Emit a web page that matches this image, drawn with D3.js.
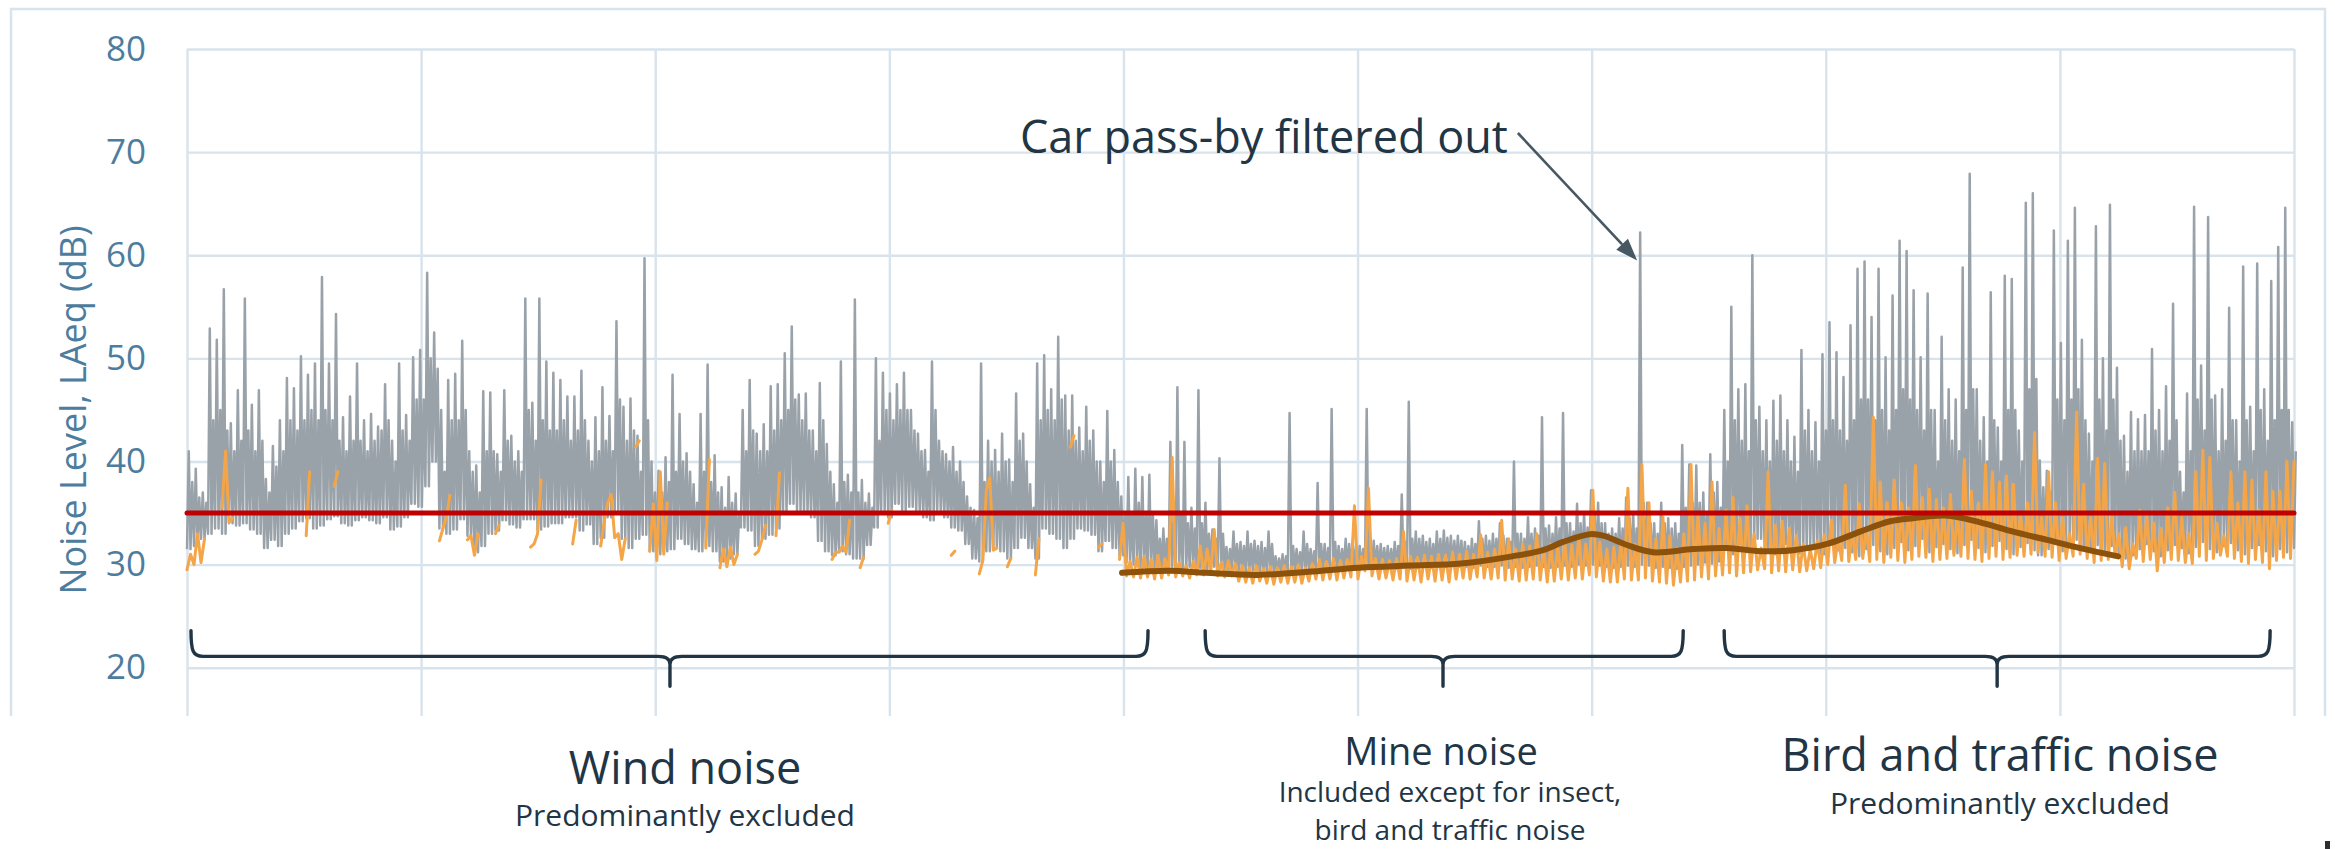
<!DOCTYPE html>
<html>
<head>
<meta charset="utf-8">
<script src="https://cdn.jsdelivr.net/npm/d3@7"></script>
<style>
  html, body { margin: 0; padding: 0; background: #ffffff; }
  svg { display: block; }
  text { font-family: "Open Sans", "Noto Sans", sans-serif; }
</style>
</head>
<body>
<svg id="chart" width="2335" height="849"></svg>
<script>
// ---------------- data ----------------
const _ = null;
const yTicks = [20, 30, 40, 50, 60, 70, 80];
const dayTicks = [0, 1, 2, 3, 4, 5, 6, 7, 8, 9];
const criterionLevel = 35;          // dB, red criterion line
const samplesPerSpan = 300.5;        // sample blocks across the 9-day window

// Unfiltered LAeq per block: trough, highest peak, and top of the dense body (dB)
const grayLow = [
  31.5,31.8,32.5,33,33.5,33,34,33.8,34,33.4,
  33,31.6,32.4,31.8,33,33.5,34.2,34.5,33.5,33.8,
  34.4,34.7,34,33.8,34.3,34.6,34.3,34,34.6,33.4,
  33.7,34.6,35.9,35.6,37.6,40,33.5,33,33.4,34.4,
  32.8,31.2,31.8,33,33.3,34.3,33.9,33.6,34.4,34.4,
  33.4,33.7,34,34,34.6,34.6,33.3,33.9,32,32.6,
  34.6,35.2,32.5,31.6,32.5,32.9,31.3,31,31.3,31.5,
  32.5,32,31.5,31.3,31.8,31.3,30.3,30.6,31,33.6,
  33.3,31.8,32.5,32.9,33.5,35,35.9,35.3,35,34.6,
  32.3,31.3,30.9,31.3,31,30.6,30.6,31.9,33.6,35.3,
  34.6,35.9,35.3,35.6,35.3,34.6,34.3,35.3,34.6,33.6,
  33.3,32,30.6,30.3,31.3,31.6,31.3,30.6,31.6,32.6,
  31.6,30.6,33.5,33,32.5,31.6,32.5,33.5,33.3,32.9,
  31.3,32.3,31.6,30.9,30.2,30,29.8,29.7,29.8,29.6,
  29.8,29.7,29.6,29.8,29.7,29.6,29.8,29.7,29.5,29.6,
  29.4,29.3,29.4,29.2,29.3,29.2,29.3,29.2,29.4,29.3,
  29.5,29.6,29.5,29.7,29.6,29.6,29.7,29.6,29.8,29.7,
  29.6,29.7,29.6,29.7,29.6,29.7,29.8,29.7,29.8,29.8,
  29.9,29.8,29.8,29.7,29.9,29.8,29.8,29.9,29.7,29.8,
  29.7,29.8,29.9,29.8,29.7,29.8,29.9,29.8,30,29.9,
  30,29.9,29.8,29.7,29.8,29.9,29.8,30,29.9,29.7,
  29.8,29.7,29.6,29.8,29.9,30,30.2,30.1,30.3,31.5,
  31,32,31.2,31.8,32.5,31.4,31,31.6,32,31.3,
  31.1,31.8,31.5,31,32.2,31.4,31.6,31.2,30.8,31.5,
  31.9,31.3,31,31.6,32.2,31.4,31.8,32.5,31.2,31.7,
  32,31.5,31.1,31.9,32.4,31.6,31.2,31.8,32.3,31.5,
  31,31.7,32.1,31.4,30.9,31.5,32,31.3,31.8,32.4,
  31.6,31.2,31.9,31.4,31.8,31,30.6,30.9,31.5,32,
  31.3,30.8,31.4,31.9,31.6,31.1,31.7,32.2,31.5,31.2,
  31.8,32.1,31.4,31,31.6,31.9,31.3,30.8,31.5,31.2,
  31.6
];
const grayHigh = [
  41,39.3,37,52.9,51.8,56.7,43.7,46.9,55.8,45.5,
  46.9,38.3,41.5,44,48.1,47.1,50.2,48.4,49.5,57.9,
  49.5,54.3,44.3,46.3,49.5,44,44.6,43.4,47.5,42,
  49.5,44.5,50.1,50.8,58.3,52.5,45,47.9,48.5,51.7,
  41,39.6,46.8,46.7,40.7,46.9,42.5,41,55.8,45.7,
  55.8,49.7,48.6,47.9,46.3,46.3,48.8,42,44.3,47.2,
  44.4,53.6,45.3,46.1,42.5,59.7,40,39.1,40.4,48.4,
  44.6,40.8,37.8,44.6,49.4,40.6,37.5,38.5,36.9,45,
  47.9,42.7,43.6,47.3,47.5,50.5,53.1,46.5,46.6,43,
  47.6,41.7,37.8,49.7,38.7,55.7,38.2,36.9,50,48.6,
  46.6,47.5,48.6,45,42.7,41.1,49.7,42,40.7,41.4,
  40,36.6,35.3,49.5,42,41.1,42.7,40.2,46.6,42.7,
  37.8,49.5,50.3,47,52.1,46.4,46.4,43.3,45.3,43,
  40,44.9,41.1,36.6,38.5,39.3,38.5,38.7,34.3,33.5,
  41.9,47.2,41.9,35.5,46.9,36,33.4,40.3,31.7,33.2,
  32.2,33.2,32.3,32.2,33.2,30.8,31,44.7,31.5,33.2,
  31.5,37.9,32,45.1,31.8,32.5,32.3,31.8,45.1,32.3,
  32,31.8,32.2,36.8,45.8,33.2,32.8,32.5,33.2,33.3,
  32.8,32.8,32.2,32.5,34.2,32.8,33,34,32.5,40,
  33,34.6,33.5,44.3,33.8,34.6,44.7,34,35.9,35,
  37.2,36,34,33.5,34.5,36.5,35,62.2,36,34,
  36,34.5,34,41.6,39.7,39.6,37,40.7,38,45,
  55,47,47.5,60,45.3,44,45.9,46.4,44,42.4,
  50.8,45,43.8,50.4,53.5,50.6,48.2,53.2,58.7,59.4,
  54,58.7,50.1,56.1,61.4,60.4,56.6,50.1,56.3,45,
  52.1,47,46,58.8,67.9,47,44.3,56.4,43.3,58,
  57.7,43,65.1,66,40.1,39.1,62.4,51.5,61.4,64.6,
  51.8,42.7,62.8,50,64.9,49.1,42.5,44.8,44.1,44.5,
  50.9,45,47.3,55.3,39,46.6,64.7,49.3,63.7,46.4,
  47,54.9,44,58.9,45.3,59.2,47,57.5,60.8,64.6,
  43.8
];
const grayBody = [
  38,36.5,36,44,45,43,41,42,43,41,
  42,37,39.5,41,44,43,44,45,44,45,
  44,42,41,42,42,41,42,43,44,40,
  43,42,46,46,50,49,39,44,44,45,
  39,37,41,41,39,42,40,39,45,42,
  44,43,43,44,42,43,44,40,41,42,
  41,46,42,43,39,44,37,37,38,39,
  40,39,36,39,38,37,35.5,36,35,41,
  43,41,41,43,44,45,46,44,43,41,
  44,39,36,38,37,37,36,35.5,42,45,
  44,45,45,43,41,39,45,41,40,39,
  38,35.5,34.5,38,40,39,40,38,42,40,
  35.5,44,45,44,46,43,42,41,42,40,
  38,40,38,35,35,36,35,35,32.5,32.5,
  34,35,34,33.5,34,33,32.5,33,31.5,32,
  31.8,32,31.8,31.6,32,30.6,30.8,31.8,31.2,32,
  31.3,32,31.6,32.2,31.5,32,31.8,31.5,32.5,31.8,
  31.6,31.5,31.8,32.2,32.5,32.5,32.2,32,32.5,32.6,
  32.3,32.3,31.8,32,32.5,32.3,32.5,32.8,32.2,33,
  32.5,33,32.8,33.5,33,33.5,34,33.2,34,33.6,
  35,34,33,33,33.5,34.5,33.5,36,34,33,
  34,33.5,33,35.5,36,36,35,37,35.5,40,
  44,42,41,44,41,40,42,41,40,39,
  43,41,40,43,44,43,42,44,46,46,
  44,45,43,45,47,46,45,43,45,40,
  44,42,41,45,47,42,40,44,40,45,
  45,40,47,48,37.5,37,46,44,46,47,
  44,40,46,43,46,42,39,41,41,41,
  43,41,42,44,37,41,46,43,46,41,
  42,44,40,44,41,45,42,44,45,45,
  41
];

// Filtered LAeq per block (excluded periods are null)
const orangeLow = [
  29.5,30,30.2,_,_,35.5,34.1,_,_,_,
  _,_,_,_,_,_,_,32.8,_,_,
  _,37.6,_,_,_,_,_,_,_,_,
  _,_,_,_,_,_,32.3,34.6,_,_,
  32.4,30.9,_,_,33,_,_,_,_,31.7,
  33,_,_,_,_,32,_,_,_,31.8,
  36,32.6,30.5,_,41.4,_,31.3,30.4,31,_,
  _,_,_,_,31.6,_,29.7,29.8,30,_,
  _,31,32.4,_,32.8,_,_,_,_,_,
  _,_,30.5,31.2,31.2,_,29.7,_,_,_,
  34,_,_,_,_,_,_,_,_,30.9,
  _,_,_,29.1,37.2,31.4,_,29.8,_,_,
  _,29,_,_,_,_,41.4,_,_,_,
  31.7,_,_,30.5,28.9,28.8,28.7,28.8,28.6,28.7,
  29,28.8,28.9,28.7,29,29,29.2,28.9,28.8,28.9,
  28.4,28.3,28.2,28.4,28.2,28.1,28.3,28.2,28.3,28.2,
  28.4,28.6,28.5,28.6,28.5,28.7,28.8,28.6,29.4,28.9,
  28.6,28.7,28.5,28.6,28.4,28.5,28.3,28.6,28.4,28.5,
  28.3,28.6,28.7,28.6,28.8,28.7,28.6,28.7,28.5,28.6,
  28.4,28.5,28.6,28.5,28.3,28.4,28.6,28.5,28.7,28.6,
  29,28.8,28.4,28.3,28.3,28.6,28.5,28.5,28.7,28.4,
  28.3,28.2,28,28.3,28.4,28.5,28.8,28.6,28.9,29,
  29.2,28.9,29.2,29.3,29.5,29.6,29.2,29.4,29.3,29.5,
  29.3,29.4,29.6,29.7,30,30.2,30.4,30.3,30.5,30.6,
  30.3,30.5,30.2,30.7,30.4,30.2,30.5,30.8,30.7,30.3,
  30.5,30.6,30.9,30.8,30.6,30.5,30.3,30.6,30.8,30.5,
  30.7,30.9,30.8,31,31.2,30.8,30.7,30.4,30.6,30.8,
  31,30.6,30.2,30.4,30.5,30.8,29.8,29.6,30.6,30.3,
  30.5,29.4,30.2,30.5,30.4,30.2,30.1,30.8,30.4,30.6,
  30.9,30.8,30.6,30.3,30.1,30.5,30.2,29.6,30.4,30.7,
  30.6
];
const orangeHigh = [
  31,33,32.5,_,_,41,34.5,_,_,_,
  _,_,_,_,_,_,_,39,_,_,
  _,39,_,_,_,_,_,_,_,_,
  _,_,_,_,_,_,33.5,36.7,_,_,
  32.8,33,_,_,33.8,_,_,_,_,32,
  38.2,_,_,_,_,34.3,_,_,_,34.2,
  36.8,33,32.5,_,42,_,35.9,39,36,_,
  _,_,_,_,40.2,_,31.5,31.7,31,_,
  _,31.3,33.8,_,38.9,_,_,_,_,_,
  _,_,31.2,31.8,34.3,_,30.7,_,_,_,
  35.3,_,_,_,_,_,_,_,_,31.3,
  _,_,_,30.4,38.4,31.6,_,30.6,_,_,
  _,32.5,_,_,_,_,42.5,_,_,_,
  32,_,_,34,30.3,30.7,30.8,30.5,30.9,30.6,
  40.4,30.2,29.9,30.3,31.8,31.5,33.4,30.2,30.4,30.1,
  29.9,29.7,29.9,29.6,29.8,29.7,29.9,29.8,30,29.7,
  30.1,30.5,30.3,30.6,30.4,30.5,35.7,30.8,37.4,30.6,
  30.5,30.4,30.6,33.2,30.8,30.7,30.9,30.8,31,30.9,
  31.2,31,31.3,31,32.9,31.2,31.5,34.3,32.5,31.5,
  32,31.8,33,31.6,32,31.8,32.2,31.9,32.8,32,
  37.2,32.2,31.5,31.7,32.3,37.4,32,39.7,36,32.5,
  34.6,32.8,31.6,33,39.7,35,34,38,33.5,35.3,
  36.5,34.5,35.7,33,31.6,39,33.8,34.2,33.5,32.8,
  32,31.5,32.3,32.9,34.3,32.5,37.7,33,35.9,33.5,
  44.3,38,36,38.2,36,35.5,39.6,36.5,37.3,36.3,
  35.5,36.8,35,40.2,37.1,36,39.7,39,38,38.6,
  37.8,35,36,42.8,34.6,39,36,34.6,33,44.8,
  37.8,34.6,40.3,39.8,34.6,33,33.6,32,35.3,34.8,
  34,33.5,35.5,37,34.6,33,39,41.1,40.4,34,
  32.8,39,36,39,38.2,35.3,39,37.1,37.1,40,
  40
];

// Smoothed trend of the filtered level
const trendDays   = [3.994,4.199,4.353,4.571,4.789,5.006,5.224,5.442,5.660,5.792,5.878,5.993,6.049,6.151,6.262,6.433,6.578,6.719,6.860,7.006,7.147,7.275,7.373,7.510,7.659,7.800,7.945,8.086,8.249];
const trendValues = [29.2,29.4,29.2,29.0,29.3,29.7,29.9,30.1,30.8,31.4,32.2,32.95,32.8,31.9,31.2,31.5,31.6,31.3,31.4,32.0,33.2,34.2,34.5,34.75,34.1,33.2,32.4,31.6,30.8];

// Period braces (days) and their captions
const periodNames = ["Wind noise", "Mine noise", "Bird and traffic noise"];
const periodNotes = [["Predominantly excluded"], ["Included except for insect,", "bird and traffic noise"], ["Predominantly excluded"]];
const periodStart = [0.017, 4.349, 6.566];
const periodEnd   = [4.105, 6.391, 8.898];
const periodMid   = [2.063, 5.365, 7.732];

// ---------------- layout ----------------
const svg = d3.select("#chart");
const plotLeft = 187, plotRight = 2294, plotTop = 49, gridBottom = 716;
const x = d3.scaleLinear().domain([0, 9]).range([plotLeft, plotRight]);
const y = d3.scaleLinear().domain([20, 80]).range([667.7, plotTop]);
const step = 9 / samplesPerSpan;

const gridColor = "#d8e3ec";
const axisBlue = "#4d7d9e";
const ink = "#223544";

// outer frame
svg.append("path")
  .attr("d", `M11,${gridBottom} L11,9 L2325,9 L2325,${gridBottom}`)
  .attr("stroke", gridColor).attr("stroke-width", 2.5).attr("fill", "none");

// gridlines
const hGrid = svg.append("g").attr("transform", `translate(${plotLeft},0)`)
  .call(d3.axisLeft(y).tickValues(yTicks).tickSize(-(plotRight - plotLeft)).tickFormat(""));
const vGrid = svg.append("g").attr("transform", `translate(0,${gridBottom})`)
  .call(d3.axisBottom(x).tickValues(dayTicks).tickSize(-(gridBottom - plotTop)).tickFormat(""));
[hGrid, vGrid].forEach(g => {
  g.select(".domain").remove();
  g.selectAll("line").attr("stroke", gridColor).attr("stroke-width", 2.4);
});

// y tick labels
const yLabels = svg.append("g").attr("transform", `translate(${plotLeft},0)`)
  .call(d3.axisLeft(y).tickValues(yTicks).tickSize(0).tickPadding(41));
yLabels.select(".domain").remove();
yLabels.selectAll("text")
  .attr("fill", axisBlue).attr("font-size", 35)
  .attr("font-family", "'Open Sans', 'Noto Sans', sans-serif");

// y axis title
svg.append("text")
  .attr("transform", "translate(86,410) rotate(-90)")
  .attr("text-anchor", "middle")
  .attr("fill", axisBlue).attr("font-size", 36)
  .text("Noise Level, LAeq (dB)");

// series
const line = d3.line().x(d => x(d[0])).y(d => y(d[1])).defined(d => d[1] !== null);

const grayPts = grayHigh.flatMap((h, i) => [
  [i * step, grayLow[i]],
  [(i + 0.25) * step, h],
  [(i + 0.5) * step, grayLow[i]],
  [(i + 0.75) * step, grayBody[i]]
]);
svg.append("path").datum(grayPts)
  .attr("d", line).attr("fill", "none")
  .attr("stroke", "#99a1a9").attr("stroke-width", 2.5).attr("stroke-linejoin", "round");

const orangePts = orangeHigh.flatMap((h, i) => [[i * step, orangeLow[i]], [(i + 0.5) * step, h]]);
svg.append("path").datum(orangePts)
  .attr("d", line).attr("fill", "none")
  .attr("stroke", "#f3a547").attr("stroke-width", 3).attr("stroke-linejoin", "round").attr("stroke-linecap", "round");

// trend
const trend = d3.line().x((d, i) => x(trendDays[i])).y(d => y(d)).curve(d3.curveCatmullRom.alpha(0.5));
svg.append("path").datum(trendValues)
  .attr("d", trend).attr("fill", "none")
  .attr("stroke", "#8c520c").attr("stroke-width", 6).attr("stroke-linecap", "round");

// criterion
svg.append("line")
  .attr("x1", x(0)).attr("x2", x(9)).attr("y1", y(criterionLevel)).attr("y2", y(criterionLevel))
  .attr("stroke", "#c00000").attr("stroke-width", 5).attr("stroke-linecap", "round");

// annotation for the car pass-by
const carIdx = grayHigh.indexOf(d3.max(grayHigh.slice(180, 240)));
const note = svg.append("text")
  .attr("x", 1020).attr("y", 153)
  .attr("fill", ink).attr("font-size", 45)
  .text("Car pass-by filtered out");
const nb = note.node().getBBox();
const ax0 = nb.x + nb.width + 10, ay0 = 133;
const ax1 = x((carIdx + 0.25) * step) - 3, ay1 = y(59.5);
const ang = Math.atan2(ay1 - ay0, ax1 - ax0);
const headLen = 22, headHalf = 8;
const bx = ax1 - headLen * Math.cos(ang), by = ay1 - headLen * Math.sin(ang);
svg.append("line").attr("x1", ax0).attr("y1", ay0).attr("x2", bx).attr("y2", by)
  .attr("stroke", "#475863").attr("stroke-width", 2.6);
svg.append("path")
  .attr("d", `M${ax1},${ay1} L${bx + headHalf * Math.sin(ang)},${by - headHalf * Math.cos(ang)} L${bx - headHalf * Math.sin(ang)},${by + headHalf * Math.cos(ang)} Z`)
  .attr("fill", "#475863");

// period braces
const braceTop = y(23.6), braceBar = y(21.1), braceTip = y(18.2);
periodStart.forEach((s, k) => {
  const x0 = x(s), x1 = x(periodEnd[k]), cx = x(periodMid[k]);
  const r = 12;
  const d = `M${x0},${braceTop} C${x0},${braceBar - 5} ${x0 + 2},${braceBar} ${x0 + r},${braceBar}` +
            ` L${cx - r},${braceBar} Q${cx},${braceBar} ${cx},${braceBar + 8} L${cx},${braceTip}` +
            ` M${cx},${braceBar + 8} Q${cx},${braceBar} ${cx + r},${braceBar}` +
            ` L${x1 - r},${braceBar} C${x1 - 2},${braceBar} ${x1},${braceBar - 5} ${x1},${braceTop}`;
  svg.append("path").attr("d", d).attr("fill", "none")
    .attr("stroke", ink).attr("stroke-width", 3.4).attr("stroke-linecap", "round");
});

// captions
const capX = [685, 1441, 2000];
const capY = [784, 765, 771];
const capSize = [45, 38, 45];
const noteX = [685, 1450, 2000];
const noteY = [826, 802, 814];
periodNames.forEach((name, k) => {
  svg.append("text").attr("x", capX[k]).attr("y", capY[k])
    .attr("text-anchor", "middle").attr("fill", ink).attr("font-size", capSize[k])
    .text(name);
  svg.append("text").attr("x", noteX[k]).attr("y", noteY[k])
    .attr("text-anchor", "middle").attr("fill", ink).attr("font-size", k === 1 ? 28 : 30)
    .selectAll("tspan").data(periodNotes[k]).join("tspan")
    .attr("x", noteX[k]).attr("dy", (d, j) => j === 0 ? 0 : 38)
    .text(d => d);
});

// corner mark
svg.append("rect").attr("x", 2325).attr("y", 841).attr("width", 5).attr("height", 8).attr("fill", "#2a2f33");
</script>
</body>
</html>
